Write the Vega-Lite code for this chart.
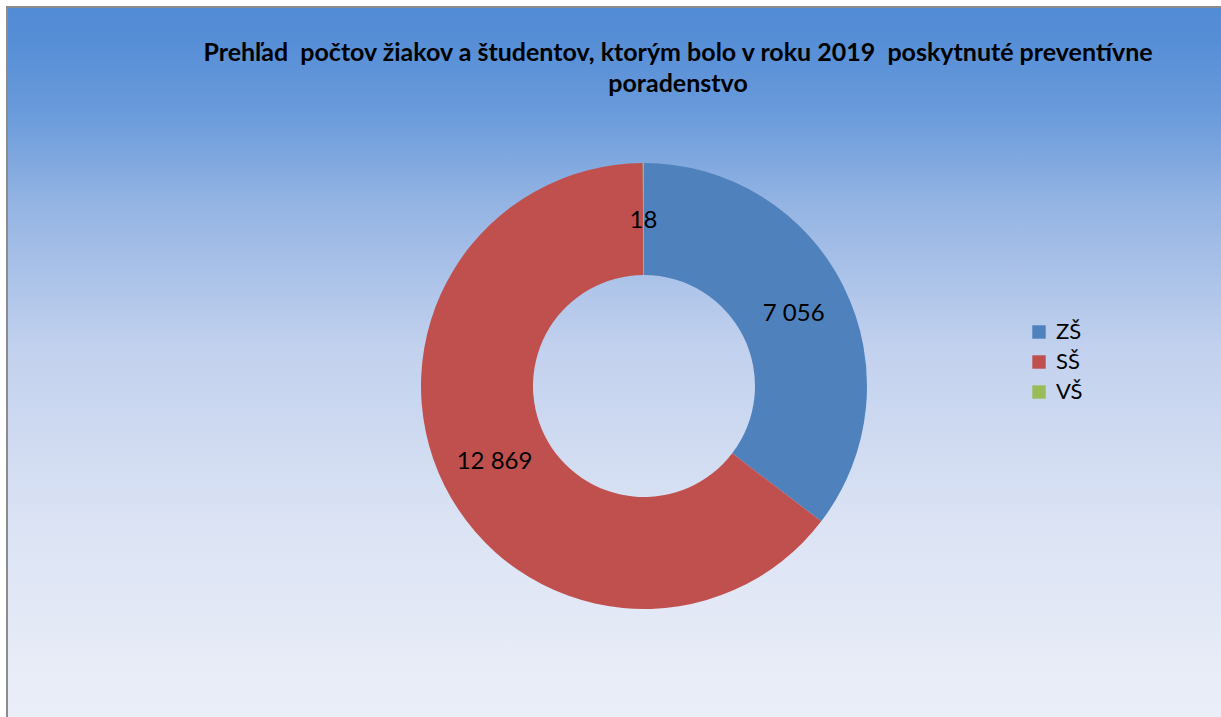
{
  "$schema": "https://vega.github.io/schema/vega-lite/v6.json",
  "width": 1274,
  "height": 758,
  "autosize": "none",
  "padding": {"left": 7, "top": 7, "right": 0, "bottom": 0},
  "background": "white",
  "config": {
    "font": "Lato",
    "view": {"stroke": null},
    "locale": {
      "number": {"decimal": ",", "thousands": " ", "grouping": [3], "currency": ["", " €"]}
    }
  },
  "title": {
    "text": ["Prehľad\u00a0 počtov žiakov a študentov, ktorým bolo v roku 2019\u00a0 poskytnuté preventívne", "poradenstvo"],
    "anchor": "middle",
    "frame": "group",
    "orient": "top",
    "baseline": "alphabetic",
    "offset": -111,
    "dx": 34,
    "fontSize": 25,
    "fontWeight": "bold",
    "font": "Lato",
    "color": "#000000",
    "lineHeight": 31
  },
  "layer": [
    {
      "data": {"values": [{"pozadie": "gradient"}]},
      "mark": {
        "type": "rect",
        "stroke": "#8c8c8c",
        "strokeWidth": 2,
        "fill": {
          "gradient": "linear",
          "x1": 0, "y1": 0, "x2": 0, "y2": 1,
          "stops": [
            {"offset": 0, "color": "#518bd5"},
            {"offset": 0.06, "color": "#5990d7"},
            {"offset": 0.14, "color": "#6a9bdb"},
            {"offset": 0.26, "color": "#94b4e3"},
            {"offset": 0.45, "color": "#c2d1ee"},
            {"offset": 0.68, "color": "#dbe3f4"},
            {"offset": 0.9, "color": "#e9edf7"},
            {"offset": 1, "color": "#eef1f9"}
          ]
        }
      },
      "encoding": {
        "x": {"value": 0},
        "x2": {"value": "width"},
        "y": {"value": 0},
        "y2": {"value": "height"}
      }
    },
    {
      "data": {
        "values": [
          {"stupen": "ZŠ", "pocet": 7056, "poradie": 1},
          {"stupen": "SŠ", "pocet": 12869, "poradie": 2},
          {"stupen": "VŠ", "pocet": 18, "poradie": 3}
        ]
      },
      "encoding": {
        "theta": {"field": "pocet", "type": "quantitative", "stack": true},
        "order": {"field": "poradie", "type": "quantitative"}
      },
      "layer": [
        {
          "mark": {"type": "arc", "innerRadius": 111, "outerRadius": 223},
          "encoding": {
            "color": {
              "field": "stupen",
              "type": "nominal",
              "sort": ["ZŠ", "SŠ", "VŠ"],
              "scale": {"domain": ["ZŠ", "SŠ", "VŠ"], "range": ["#4f81bd", "#c0504d", "#9bbb59"]},
              "legend": {
                "title": null,
                "orient": "none",
                "legendX": 1021,
                "legendY": 314,
                "symbolType": "square",
                "symbolSize": 180,
                "symbolStrokeWidth": 0,
                "labelFontSize": 22,
                "labelFont": "Lato",
                "labelColor": "#000000",
                "rowPadding": 8,
                "labelOffset": 6,
                "padding": 0
              }
            }
          }
        },
        {
          "mark": {"type": "text", "radius": 167, "fontSize": 24, "font": "Lato", "color": "#000000", "dy": 2},
          "encoding": {
            "text": {"field": "pocet", "type": "quantitative", "format": ",d"}
          }
        }
      ]
    }
  ]
}
